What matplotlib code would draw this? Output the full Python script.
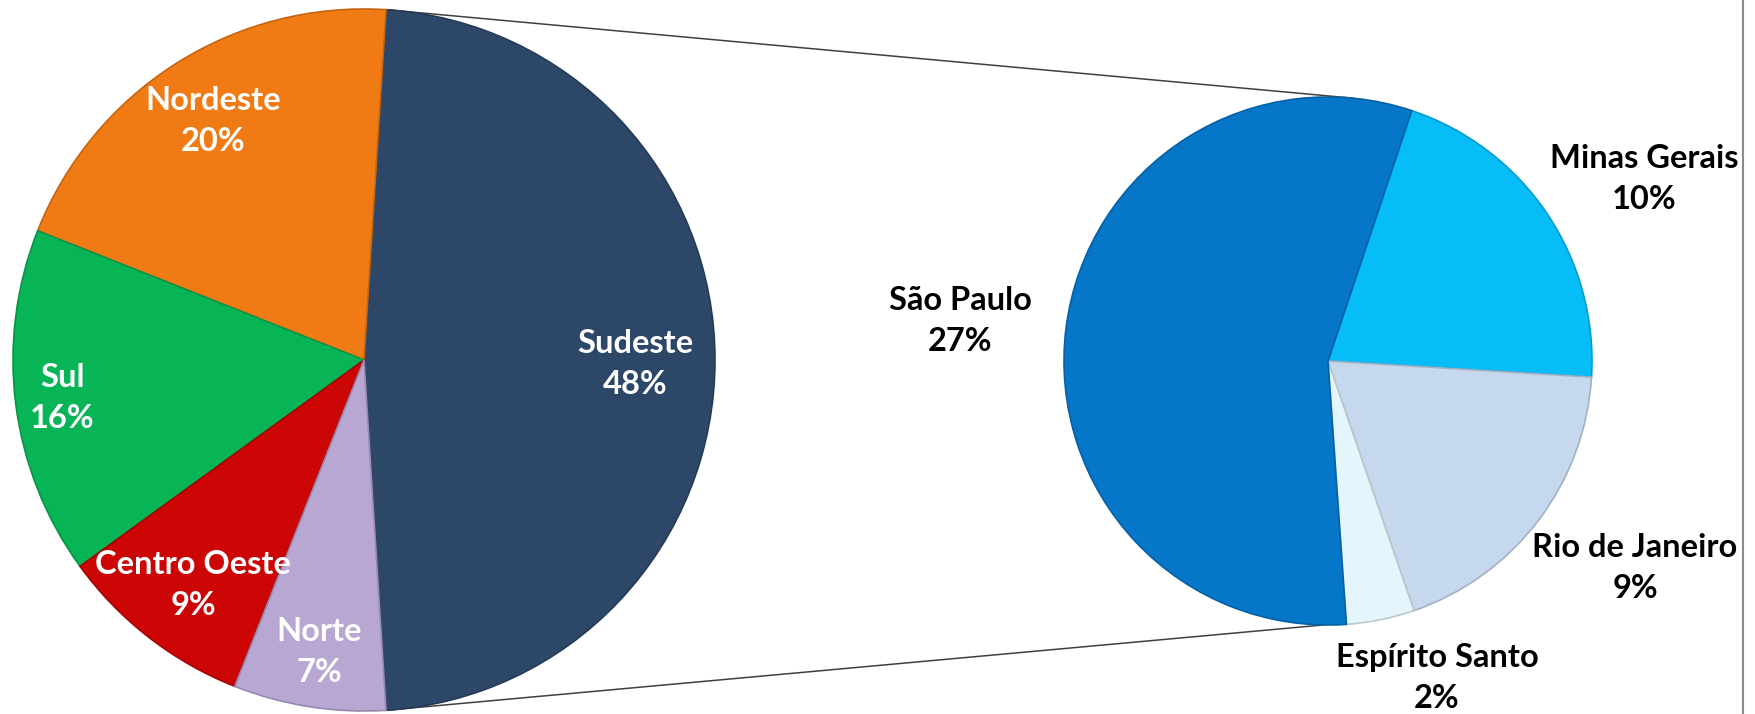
import matplotlib
matplotlib.use("Agg")
import matplotlib.pyplot as plt
import numpy as np

# ---- data ----
regions = ["Sudeste", "Nordeste", "Sul", "Centro Oeste", "Norte"]
region_pct = [48, 20, 16, 9, 7]
region_colors = ["#2D4769", "#F07B14", "#07B556", "#CC0505", "#B8A7D3"]

states = ["Minas Gerais", "Rio de Janeiro", "Espírito Santo", "São Paulo"]
state_pct = [10, 9, 2, 27]
state_colors = ["#07BDF7", "#C5D8EE", "#E4F5FB", "#0676C9"]

W, H = 1756, 714
fig = plt.figure(figsize=(W / 100, H / 100), dpi=100)
ax = fig.add_axes([0, 0, 1, 1])

FONT = ["Lato", "DejaVu Sans"]
FS = 23.5
LS = 1.5

def darker(c, f=0.8):
    r, g, b = matplotlib.colors.to_rgb(c)
    return (r * f, g * f, b * f)

# left pie
L_c = (364, H - 360)
L_r = 351
sud_half = region_pct[0] / 100 * 360 / 2
wl, _ = ax.pie(region_pct, colors=region_colors, startangle=-sud_half,
               center=L_c, radius=L_r, frame=True,
               wedgeprops=dict(linewidth=1.2))
for w, c in zip(wl, region_colors):
    w.set_edgecolor(darker(c, 0.82))

# right pie
R_c = (1328, H - 361)
R_r = 264
wr, _ = ax.pie(state_pct, colors=state_colors, startangle=71.5, counterclock=False,
               center=R_c, radius=R_r, frame=True,
               wedgeprops=dict(linewidth=1.2))
for w, c in zip(wr, state_colors):
    w.set_edgecolor(darker(c, 0.82))

ax.set_xlim(0, W)
ax.set_ylim(0, H)
ax.set_aspect("equal")
ax.axis("off")

# connector lines
def pt(c, r, ang):
    a = np.deg2rad(ang)
    return c[0] + r * np.cos(a), c[1] + r * np.sin(a)

top_l = pt(L_c, L_r, sud_half)
bot_l = pt(L_c, L_r, -sud_half)
top_r = pt(R_c, R_r, 84.5)
bot_r = pt(R_c, R_r, -91.0)
ax.plot([top_l[0], top_r[0]], [top_l[1], top_r[1]], color="#404040", lw=1.1, zorder=0)
ax.plot([bot_l[0], bot_r[0]], [bot_l[1], bot_r[1]], color="#404040", lw=1.1, zorder=0)

# right border
ax.plot([1743, 1743], [0, H], color="#8C8C8C", lw=1.5)

# labels
left_pos = {"Sudeste": (635, 364), "Nordeste": (213, 121), "Sul": (62, 398),
            "Centro Oeste": (193, 585), "Norte": (319, 652)}
for name, p in zip(regions, region_pct):
    x, y = left_pos[name]
    ax.text(x, H - y, f"{name}\n{p}%", color="white", fontsize=FS, fontweight="bold",
            ha="center", va="center", family=FONT, linespacing=LS, zorder=5)

right_pos = {"São Paulo": (960, 321), "Minas Gerais": (1644, 179),
             "Rio de Janeiro": (1635, 568), "Espírito Santo": (1437, 678)}
for name, p in zip(states, state_pct):
    x, y = right_pos[name]
    ax.text(x, H - y, f"{name}\n{p}%", color="black", fontsize=FS, fontweight="bold",
            ha="center", va="center", family=FONT, linespacing=LS, zorder=5)

fig.savefig("out.png", dpi=100, facecolor="white")
